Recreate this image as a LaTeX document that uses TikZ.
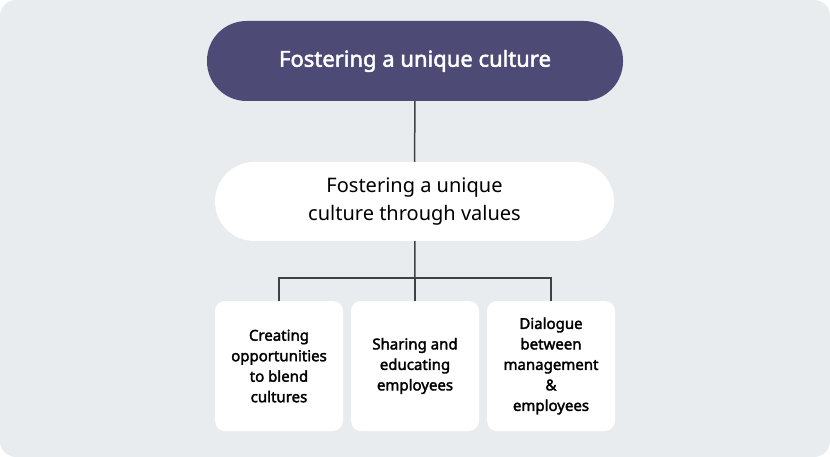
\documentclass[tikz,border=0pt]{standalone}
\usepackage{fontspec}
\setmainfont{Noto Sans}[BoldFont={Noto Sans},BoldFeatures={FakeBold=2.2}]
\usetikzlibrary{positioning}
\newcommand{\LINEPT}{1.5pt}
\definecolor{mybg}{rgb}{0.91,0.925,0.937}
\definecolor{mypurple}{rgb}{0.306,0.290,0.463}
\definecolor{myline}{rgb}{0.25,0.25,0.27}

\begin{document}
\begin{tikzpicture}[x=1pt,y=-1pt,
	pill/.style={rounded corners=39.5pt,minimum width=399pt,minimum height=79pt,align=center,inner sep=0pt},
	box/.style={fill=white,rounded corners=10pt,minimum width=128pt,minimum height=130pt,align=center,inner sep=0pt,font=\bfseries\fontsize{15}{20.5}\selectfont}]

	%%
	\fill[mybg,rounded corners=16pt] (0,0) rectangle (830,457);
	\useasboundingbox (0,0) rectangle (830,457);

	\node[pill,fill=mypurple,minimum width=416pt,minimum height=80pt,text=white,font=\bfseries\fontsize{22}{26}\selectfont] (top) at (415,61) {Fostering a unique culture};
	\node[pill,fill=white,font=\fontsize{20}{28}\selectfont] (mid) at (414.5,201.5) {Fostering a unique\\culture through values};

	\node[box] (b1) at (279,366) {Creating\\opportunities\\to blend\\cultures};
	\node[box] (b2) at (415,366) {Sharing and\\educating\\employees};
	\node[box] (b3) at (551,366) {Dialogue\\between\\management\\\&\\employees};

	%%
	\coordinate (fork) at (415,278);
	\draw[color=myline,line width=\LINEPT] (top) -- (mid);
	\draw[color=myline,line width=\LINEPT] (mid) -- (fork);
	\draw[color=myline,line width=\LINEPT] (b1.north) |- (fork) -| (b3.north);
	\draw[color=myline,line width=\LINEPT] (fork) -- (b2.north);

\end{tikzpicture}
\end{document}
